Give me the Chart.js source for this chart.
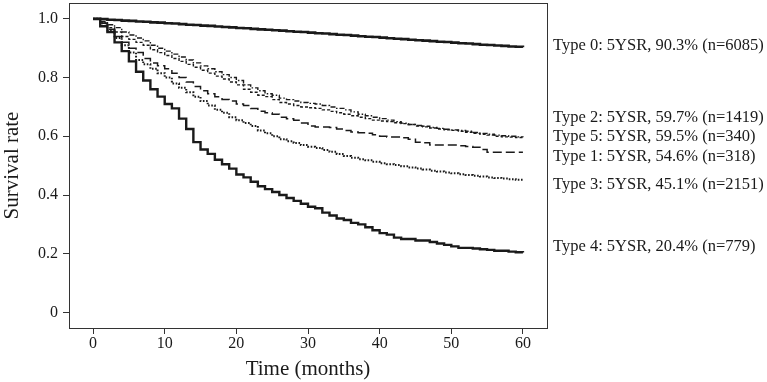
<!DOCTYPE html>
<html>
<head>
<meta charset="utf-8">
<script src="https://cdn.jsdelivr.net/npm/chart.js@4/dist/chart.umd.min.js"></script>
<style>
  html, body { margin: 0; padding: 0; background: #fff; }
  #wrap { width: 767px; height: 382px; position: relative; }
</style>
</head>
<body>
<div id="wrap"><canvas id="km" width="767" height="382"></canvas></div>
<script>
// months 0..60
const months = Array.from({ length: 61 }, (_, i) => i);

const xTicks = [0, 10, 20, 30, 40, 50, 60];
const yTicks = [0, 0.2, 0.4, 0.6, 0.8, 1.0];

const labels = [
    "Type 0: 5YSR, 90.3% (n=6085)",
    "Type 2: 5YSR, 59.7% (n=1419)",
    "Type 5: 5YSR, 59.5% (n=340)",
    "Type 1: 5YSR, 54.6% (n=318)",
    "Type 3: 5YSR, 45.1% (n=2151)",
    "Type 4: 5YSR, 20.4% (n=779)"
];
// where each right-hand label sits on the survival axis
const labelAt = [0.908, 0.663, 0.598, 0.530, 0.434, 0.223];

const type0 = [1.0, 0.999, 0.997, 0.996, 0.994, 0.993, 0.991, 0.99, 0.988, 0.987, 0.985,
    0.984, 0.982, 0.98, 0.979, 0.977, 0.976, 0.974, 0.972, 0.971, 0.969,
    0.968, 0.966, 0.964, 0.963, 0.961, 0.96, 0.958, 0.956, 0.955, 0.953,
    0.951, 0.95, 0.948, 0.946, 0.945, 0.943, 0.941, 0.939, 0.938, 0.936,
    0.934, 0.932, 0.931, 0.929, 0.927, 0.926, 0.924, 0.922, 0.921, 0.919,
    0.917, 0.916, 0.914, 0.912, 0.911, 0.909, 0.908, 0.906, 0.905, 0.903];

const type2 = [1.0, 0.99, 0.98, 0.97, 0.955, 0.945, 0.935, 0.925, 0.91, 0.9, 0.89,
    0.88, 0.87, 0.86, 0.85, 0.84, 0.83, 0.82, 0.81, 0.8, 0.79,
    0.775, 0.765, 0.755, 0.745, 0.74, 0.73, 0.725, 0.72, 0.715, 0.712,
    0.71, 0.705, 0.7, 0.695, 0.69, 0.683, 0.675, 0.67, 0.665, 0.66,
    0.655, 0.65, 0.645, 0.64, 0.637, 0.634, 0.63, 0.627, 0.624, 0.622,
    0.62, 0.617, 0.613, 0.61, 0.607, 0.604, 0.602, 0.6, 0.598, 0.597];

const type5 = [1.0, 0.985, 0.97, 0.955, 0.94, 0.93, 0.92, 0.91, 0.895, 0.885, 0.875,
    0.865, 0.855, 0.845, 0.835, 0.825, 0.815, 0.805, 0.795, 0.785, 0.775,
    0.76, 0.75, 0.74, 0.735, 0.725, 0.715, 0.71, 0.705, 0.7, 0.697,
    0.695, 0.69, 0.685, 0.68, 0.675, 0.67, 0.665, 0.66, 0.655, 0.652,
    0.65, 0.646, 0.643, 0.64, 0.635, 0.632, 0.628, 0.625, 0.622, 0.62,
    0.617, 0.614, 0.61, 0.607, 0.604, 0.6, 0.598, 0.597, 0.596, 0.595];

const type1 = [1.0, 0.985, 0.965, 0.94, 0.92, 0.9, 0.885, 0.865, 0.85, 0.84, 0.83,
    0.815, 0.8, 0.785, 0.77, 0.755, 0.745, 0.735, 0.725, 0.72, 0.71,
    0.705, 0.695, 0.685, 0.68, 0.675, 0.665, 0.66, 0.655, 0.645, 0.635,
    0.632, 0.632, 0.63, 0.625, 0.62, 0.615, 0.612, 0.61, 0.605, 0.6,
    0.598, 0.598, 0.595, 0.59, 0.58, 0.578, 0.57, 0.57, 0.57, 0.57,
    0.568, 0.565, 0.563, 0.555, 0.546, 0.546, 0.546, 0.546, 0.546, 0.546];

const type3 = [1.0, 0.985, 0.96, 0.935, 0.91, 0.885, 0.86, 0.845, 0.83, 0.815, 0.8,
    0.78, 0.765, 0.75, 0.735, 0.72, 0.705, 0.69, 0.68, 0.665, 0.655,
    0.645, 0.635, 0.62, 0.61, 0.6, 0.59, 0.583, 0.577, 0.57, 0.564,
    0.56, 0.553, 0.547, 0.54, 0.533, 0.527, 0.522, 0.518, 0.513, 0.508,
    0.505, 0.502, 0.498, 0.494, 0.49, 0.487, 0.483, 0.48, 0.477, 0.474,
    0.471, 0.468, 0.466, 0.463, 0.46, 0.458, 0.456, 0.454, 0.452, 0.451];

const type4 = [1.0, 0.975, 0.955, 0.92, 0.89, 0.855, 0.82, 0.79, 0.76, 0.735, 0.71,
    0.695, 0.66, 0.625, 0.58, 0.555, 0.54, 0.52, 0.505, 0.49, 0.47,
    0.46, 0.445, 0.43, 0.42, 0.41, 0.4, 0.39, 0.38, 0.37, 0.36,
    0.355, 0.34, 0.33, 0.32, 0.315, 0.305, 0.3, 0.29, 0.28, 0.27,
    0.265, 0.255, 0.25, 0.25, 0.245, 0.245, 0.24, 0.235, 0.23, 0.225,
    0.22, 0.22, 0.218, 0.215, 0.213, 0.21, 0.21, 0.207, 0.205, 0.204];

const ink = "#1a1a1a";
const serif = "'Liberation Serif', 'DejaVu Serif', serif";

function series(values, width, dash) {
    return {
        data: months.map((m, i) => ({ x: m, y: values[i] })),
        borderColor: ink,
        borderWidth: width,
        borderDash: dash,
        stepped: true,
        pointRadius: 0,
        fill: false
    };
}

// plot frame + right side labels
const framePlugin = {
    id: "frame",
    afterDraw(chart) {
        const { ctx, chartArea: a } = chart;
        const y = chart.scales.y;
        ctx.save();
        ctx.strokeStyle = "#333";
        ctx.lineWidth = 1;
        ctx.strokeRect(a.left + 0.5, a.top + 0.5, a.right - a.left, a.bottom - a.top);
        ctx.fillStyle = ink;
        ctx.font = "16.5px " + serif;
        ctx.textBaseline = "middle";
        ctx.textAlign = "left";
        labels.forEach((t, i) => {
            ctx.fillText(t, a.right + 6, y.getPixelForValue(labelAt[i]));
        });
        ctx.restore();
    }
};

new Chart(document.getElementById("km"), {
    type: "line",
    data: {
        datasets: [
            series(type0, 2.6, []),
            series(type2, 1.4, [5, 2, 1.5, 2]),
            series(type5, 1.4, [3, 2]),
            series(type1, 1.5, [9, 4]),
            series(type3, 2, [1.6, 1.6]),
            series(type4, 2.4, [])
        ]
    },
    options: {
        responsive: false,
        animation: false,
        layout: { padding: { top: 3, right: 220, bottom: 0, left: 0 } },
        plugins: { legend: { display: false }, tooltip: { enabled: false } },
        scales: {
            x: {
                type: "linear",
                min: -3.36,
                max: 63.36,
                afterBuildTicks: s => { s.ticks = xTicks.map(v => ({ value: v })); },
                afterFit: s => { s.height = 54; s.paddingLeft = 0; s.paddingRight = 0; },
                grid: { drawOnChartArea: false, drawTicks: true, tickLength: 6, color: "#333" },
                border: { display: true, color: "#333" },
                ticks: { color: ink, font: { family: serif, size: 16 }, padding: 0, maxRotation: 0 },
                title: { display: true, text: "Time (months)", color: ink,
                         font: { family: serif, size: 21 }, padding: { top: 0, bottom: 0 } }
            },
            y: {
                min: -0.053,
                max: 1.054,
                afterBuildTicks: s => { s.ticks = yTicks.map(v => ({ value: v })); },
                afterFit: s => { s.width = 69; s.paddingTop = 0; s.paddingBottom = 0; },
                grid: { drawOnChartArea: false, drawTicks: true, tickLength: 6, color: "#333" },
                border: { display: true, color: "#333" },
                ticks: { color: ink, font: { family: serif, size: 16 }, padding: 5,
                         callback: v => v === 0 ? "0" : v.toFixed(1) },
                title: { display: true, text: "Survival rate", color: ink,
                         font: { family: serif, size: 21 }, padding: { top: 0, bottom: 0 } }
            }
        }
    },
    plugins: [framePlugin]
});
</script>
</body>
</html>
